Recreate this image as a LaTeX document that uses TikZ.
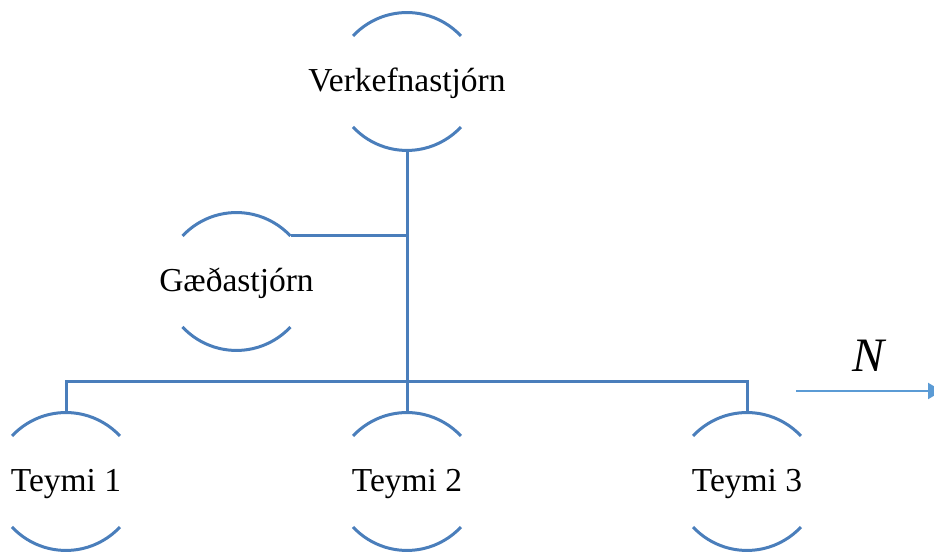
\documentclass[tikz,border=0pt]{standalone}
\usepackage{fontspec}
\setmainfont{Liberation Serif}
\usetikzlibrary{calc,arrows.meta}
\definecolor{linec}{HTML}{4A7EBB}
\definecolor{arrowc}{HTML}{5B9BD5}
\tikzset{
  x=1pt,y=1pt,
  label text/.style={inner sep=0pt,anchor=base,font=\fontsize{33.5}{38}\selectfont},
  ring/.style={draw=linec,line width=3pt},
  conn/.style={draw=linec,line width=3pt},
  flow/.style={draw=arrowc,line width=2.2pt,-{Triangle[length=14pt,width=16pt]}}
}
\newcommand{\ringnode}[4]{%
  \coordinate (#1-c) at (#2,#3);
  \node[label text] (#1) at ($(#1-c)+(0,-10.5)$) {#4};
  \coordinate (#1-top) at ($(#1-c)+(0,69)$);
  \coordinate (#1-bot) at ($(#1-c)+(0,-69)$);
  \coordinate (#1-tr) at ($(#1-c)+(54,45.5)$);
  \draw[ring] ($(#1-c)+(-54,45.5)$) arc[start angle=137,end angle=43,radius=73.8];
  \draw[ring] ($(#1-c)+(-54,-45.5)$) arc[start angle=223,end angle=317,radius=73.8];
}
\begin{document}
\begin{tikzpicture}
\clip (0,0) rectangle (934,553);
\ringnode{v}{407}{471.5}{Verkefnastjórn}
\ringnode{g}{236.5}{271.5}{Gæðastjórn}
\ringnode{t1}{66}{71.5}{Teymi 1}
\ringnode{t2}{407}{71.5}{Teymi 2}
\ringnode{t3}{747}{71.5}{Teymi 3}
\coordinate (bus) at (407,171);
\draw[conn] (v-bot) -- (bus);
\draw[conn] (g-tr) -- (v-bot |- g-tr);
\draw[conn] (t1-top) |- (bus) -| (t3-top);
\draw[conn] (t2-top) -- (bus);
\coordinate (as) at (796,162);
\coordinate (ae) at (942,162);
\draw[flow] (as) -- (ae);
\node[inner sep=0pt,font=\fontsize{48}{52}\selectfont\itshape] (n) at (868,197) {N};
\end{tikzpicture}
\end{document}
